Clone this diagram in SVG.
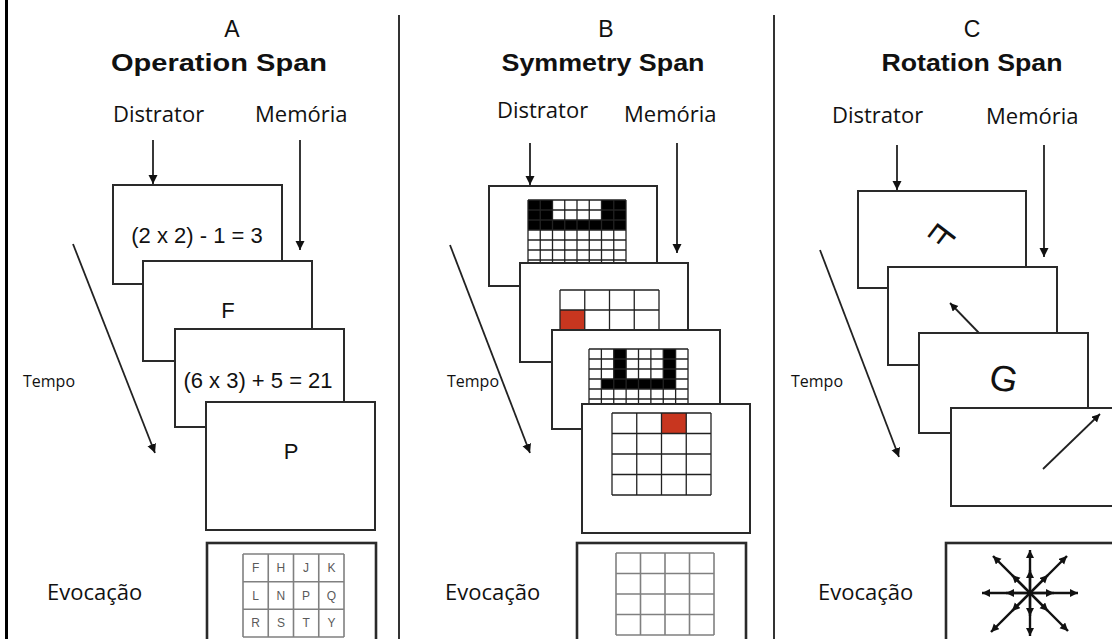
<svg xmlns="http://www.w3.org/2000/svg" width="1112" height="639" viewBox="0 0 1112 639">
<defs>
<style>
.lbl{font-family:"Open Sans","Liberation Sans",sans-serif;font-size:22px;fill:#111}
.tmp{font-family:"Open Sans","Liberation Sans",sans-serif;font-size:16px;fill:#111}
.let{font-family:"Liberation Sans",Arial,sans-serif;font-size:23px;fill:#111;text-anchor:middle}
.ttl{font-family:"Liberation Sans",Arial,sans-serif;font-size:24px;font-weight:bold;fill:#111;text-anchor:middle}
.eq{font-family:"Liberation Sans",Arial,sans-serif;font-size:22px;fill:#111;text-anchor:middle}
.card{fill:#fff;stroke:#2a2a2a;stroke-width:2}
.evo{fill:#fff;stroke:#2a2a2a;stroke-width:2.6}
.conn{stroke:#222;stroke-width:1.8;fill:none}
.grid{stroke:#222;stroke-width:1.3;fill:none}
.ggrid{stroke:#808080;stroke-width:1.6;fill:none}
.gl{font-family:"Liberation Sans",Arial,sans-serif;font-size:12px;fill:#5a5a5a;text-anchor:middle}
.star{stroke:#111;stroke-width:2.4;fill:none}
.div{stroke:#333;stroke-width:2}
</style>
<marker id="ah" markerUnits="userSpaceOnUse" markerWidth="10" markerHeight="10" refX="9" refY="4.5" orient="auto">
<path d="M0,0 L9,4.5 L0,9 z" fill="#111"/>
</marker>
<marker id="sh" markerUnits="userSpaceOnUse" markerWidth="10" markerHeight="10" refX="8" refY="4" orient="auto">
<path d="M0,0 L8,4 L0,8 z" fill="#111"/>
</marker>
</defs>
<rect width="1112" height="639" fill="#fff"/>
<line x1="6.5" y1="0" x2="6.5" y2="639" stroke="#000" stroke-width="3"/>
<g id="dividers">
<line class="div" x1="399" y1="15" x2="399" y2="639"/>
<line class="div" x1="774" y1="15" x2="774" y2="639"/>
</g>

<g id="headers">
<text class="let" x="232" y="37">A</text>
<text class="ttl" x="219" y="71" textLength="216" lengthAdjust="spacingAndGlyphs">Operation Span</text>
<text class="let" x="606" y="37">B</text>
<text class="ttl" x="603" y="71" textLength="203" lengthAdjust="spacingAndGlyphs">Symmetry Span</text>
<text class="let" x="972" y="37">C</text>
<text class="ttl" x="972" y="71" textLength="181" lengthAdjust="spacingAndGlyphs">Rotation Span</text>
<text class="lbl" x="113" y="122">Distrator</text>
<text class="lbl" x="255" y="122">Memória</text>
<text class="lbl" x="497" y="118">Distrator</text>
<text class="lbl" x="624" y="122">Memória</text>
<text class="lbl" x="832" y="123">Distrator</text>
<text class="lbl" x="986" y="124">Memória</text>
<text class="tmp" x="23" y="387">Tempo</text>
<text class="tmp" x="447" y="387">Tempo</text>
<text class="tmp" x="791" y="387">Tempo</text>
<text class="lbl" x="47" y="600">Evocação</text>
<text class="lbl" x="445" y="600">Evocação</text>
<text class="lbl" x="818" y="600">Evocação</text>
</g>

<g id="connectors">
<line class="conn" x1="153" y1="140" x2="153" y2="184" marker-end="url(#ah)"/>
<line class="conn" x1="300" y1="140" x2="300" y2="250" marker-end="url(#ah)"/>
<line class="conn" x1="73" y1="244" x2="155" y2="453" marker-end="url(#ah)"/>
<line class="conn" x1="530" y1="143" x2="530" y2="185" marker-end="url(#ah)"/>
<line class="conn" x1="677" y1="143" x2="677" y2="253" marker-end="url(#ah)"/>
<line class="conn" x1="450" y1="245" x2="530" y2="453" marker-end="url(#ah)"/>
<line class="conn" x1="897" y1="145" x2="897" y2="190" marker-end="url(#ah)"/>
<line class="conn" x1="1044" y1="145" x2="1044" y2="257" marker-end="url(#ah)"/>
<line class="conn" x1="820" y1="250" x2="899" y2="457" marker-end="url(#ah)"/>
</g>

<!-- Panel A -->
<g id="a1"><rect class="card" x="113" y="185" width="169" height="99"/><text class="eq" x="197" y="243">(2 x 2) - 1 = 3</text></g>
<g id="a2"><rect class="card" x="143" y="261" width="169" height="100"/><text class="eq" x="228" y="318">F</text></g>
<g id="a3"><rect class="card" x="175" y="329" width="169" height="98"/><text class="eq" x="258" y="388">(6 x 3) + 5 = 21</text></g>
<g id="a4"><rect class="card" x="206" y="402" width="169" height="128"/><text class="eq" x="291" y="459">P</text></g>
<g id="a-recall">
<rect class="evo" x="207" y="543" width="169" height="110"/>
<path class="ggrid" d="M243,554H344M243,581.7H344M243,609.3H344M243,637H344M243,554V637M268.25,554V637M293.5,554V637M318.75,554V637M344,554V637"/>
<text class="gl" x="255.6" y="572">F</text><text class="gl" x="280.9" y="572">H</text><text class="gl" x="306.1" y="572">J</text><text class="gl" x="331.4" y="572">K</text>
<text class="gl" x="255.6" y="600">L</text><text class="gl" x="280.9" y="600">N</text><text class="gl" x="306.1" y="600">P</text><text class="gl" x="331.4" y="600">Q</text>
<text class="gl" x="255.6" y="627">R</text><text class="gl" x="280.9" y="627">S</text><text class="gl" x="306.1" y="627">T</text><text class="gl" x="331.4" y="627">Y</text>
</g>

<!-- Panel B -->
<g id="b1">
<rect class="card" x="489" y="186" width="168" height="100"/>
<rect x="528" y="200" width="24.5" height="20" fill="#000"/>
<rect x="601.5" y="200" width="24.5" height="20" fill="#000"/>
<rect x="528" y="220" width="98" height="10" fill="#000"/>
<path class="grid" d="M528,200H626M528,210H626M528,220H626M528,230H626M528,240H626M528,250H626M528,260H626M528,270H626M528,200V270M540.25,200V270M552.5,200V270M564.75,200V270M577,200V270M589.25,200V270M601.5,200V270M613.75,200V270M626,200V270"/>
</g>
<g id="b2">
<rect class="card" x="520" y="263" width="168" height="99"/>
<rect x="560" y="310" width="24.75" height="20" fill="#c8361f"/>
<path class="grid" d="M560,290H659M560,310H659M560,330H659M560,290V340M584.75,290V340M609.5,290V340M634.25,290V340M659,290V340"/>
</g>
<g id="b3">
<rect class="card" x="552" y="330" width="168" height="99"/>
<rect x="613.75" y="349" width="12.375" height="30" fill="#000"/>
<rect x="663.25" y="349" width="12.375" height="30" fill="#000"/>
<rect x="601.375" y="379" width="74.25" height="10" fill="#000"/>
<path class="grid" d="M589,349H688M589,359H688M589,369H688M589,379H688M589,389H688M589,399H688M589,409H688M589,349V409M601.375,349V409M613.75,349V409M626.125,349V409M638.5,349V409M650.875,349V409M663.25,349V409M675.625,349V409M688,349V409"/>
</g>
<g id="b4">
<rect class="card" x="582" y="404" width="168" height="129"/>
<rect x="661.5" y="413" width="24.75" height="20.5" fill="#c8361f"/>
<path class="grid" d="M612,413H711M612,433.5H711M612,454H711M612,474.5H711M612,495H711M612,413V495M636.75,413V495M661.5,413V495M686.25,413V495M711,413V495"/>
</g>
<g id="b-recall">
<rect class="evo" x="577" y="543" width="169" height="110"/>
<path class="ggrid" d="M616,553H714M616,573.5H714M616,594H714M616,614.5H714M616,635H714M616,553V635M640.5,553V635M665,553V635M689.5,553V635M714,553V635"/>
</g>

<!-- Panel C -->
<g id="c1">
<rect class="card" x="858" y="191" width="168" height="97"/>
<text class="eq" style="font-size:34px" transform="translate(942,236) rotate(-52.5) scale(-1,1)" x="0" y="12">F</text>
</g>
<g id="c2">
<rect class="card" x="888" y="267" width="169" height="98"/>
<line class="conn" x1="979" y1="333" x2="950" y2="303" marker-end="url(#sh)"/>
</g>
<g id="c3">
<rect class="card" x="919" y="333" width="169" height="100"/>
<text class="eq" style="font-size:36px" transform="translate(1004,378) rotate(12)" x="0" y="13">G</text>
</g>
<g id="c4">
<rect class="card" x="951" y="408" width="175" height="98"/>
<line class="conn" x1="1043" y1="469" x2="1100" y2="414" marker-end="url(#sh)"/>
</g>
<g id="c-recall">
<rect class="evo" x="946" y="543" width="180" height="110"/>
<g class="star">
<line x1="1030" y1="593" x2="1078" y2="593" marker-end="url(#sh)"/>
<line x1="1030" y1="593" x2="1054" y2="593" marker-end="url(#sh)"/>
<line x1="1030" y1="593" x2="982" y2="593" marker-end="url(#sh)"/>
<line x1="1030" y1="593" x2="1006" y2="593" marker-end="url(#sh)"/>
<line x1="1030" y1="593" x2="1030" y2="550" marker-end="url(#sh)"/>
<line x1="1030" y1="593" x2="1030" y2="570" marker-end="url(#sh)"/>
<line x1="1030" y1="593" x2="1030" y2="636" marker-end="url(#sh)"/>
<line x1="1030" y1="593" x2="1030" y2="616" marker-end="url(#sh)"/>
<line x1="1030" y1="593" x2="1067" y2="556" marker-end="url(#sh)"/>
<line x1="1030" y1="593" x2="1048" y2="575" marker-end="url(#sh)"/>
<line x1="1030" y1="593" x2="993" y2="556" marker-end="url(#sh)"/>
<line x1="1030" y1="593" x2="1012" y2="575" marker-end="url(#sh)"/>
<line x1="1030" y1="593" x2="1068" y2="631" marker-end="url(#sh)"/>
<line x1="1030" y1="593" x2="1048" y2="611" marker-end="url(#sh)"/>
<line x1="1030" y1="593" x2="991" y2="632" marker-end="url(#sh)"/>
<line x1="1030" y1="593" x2="1012" y2="611" marker-end="url(#sh)"/>
</g>
</g>
</svg>
